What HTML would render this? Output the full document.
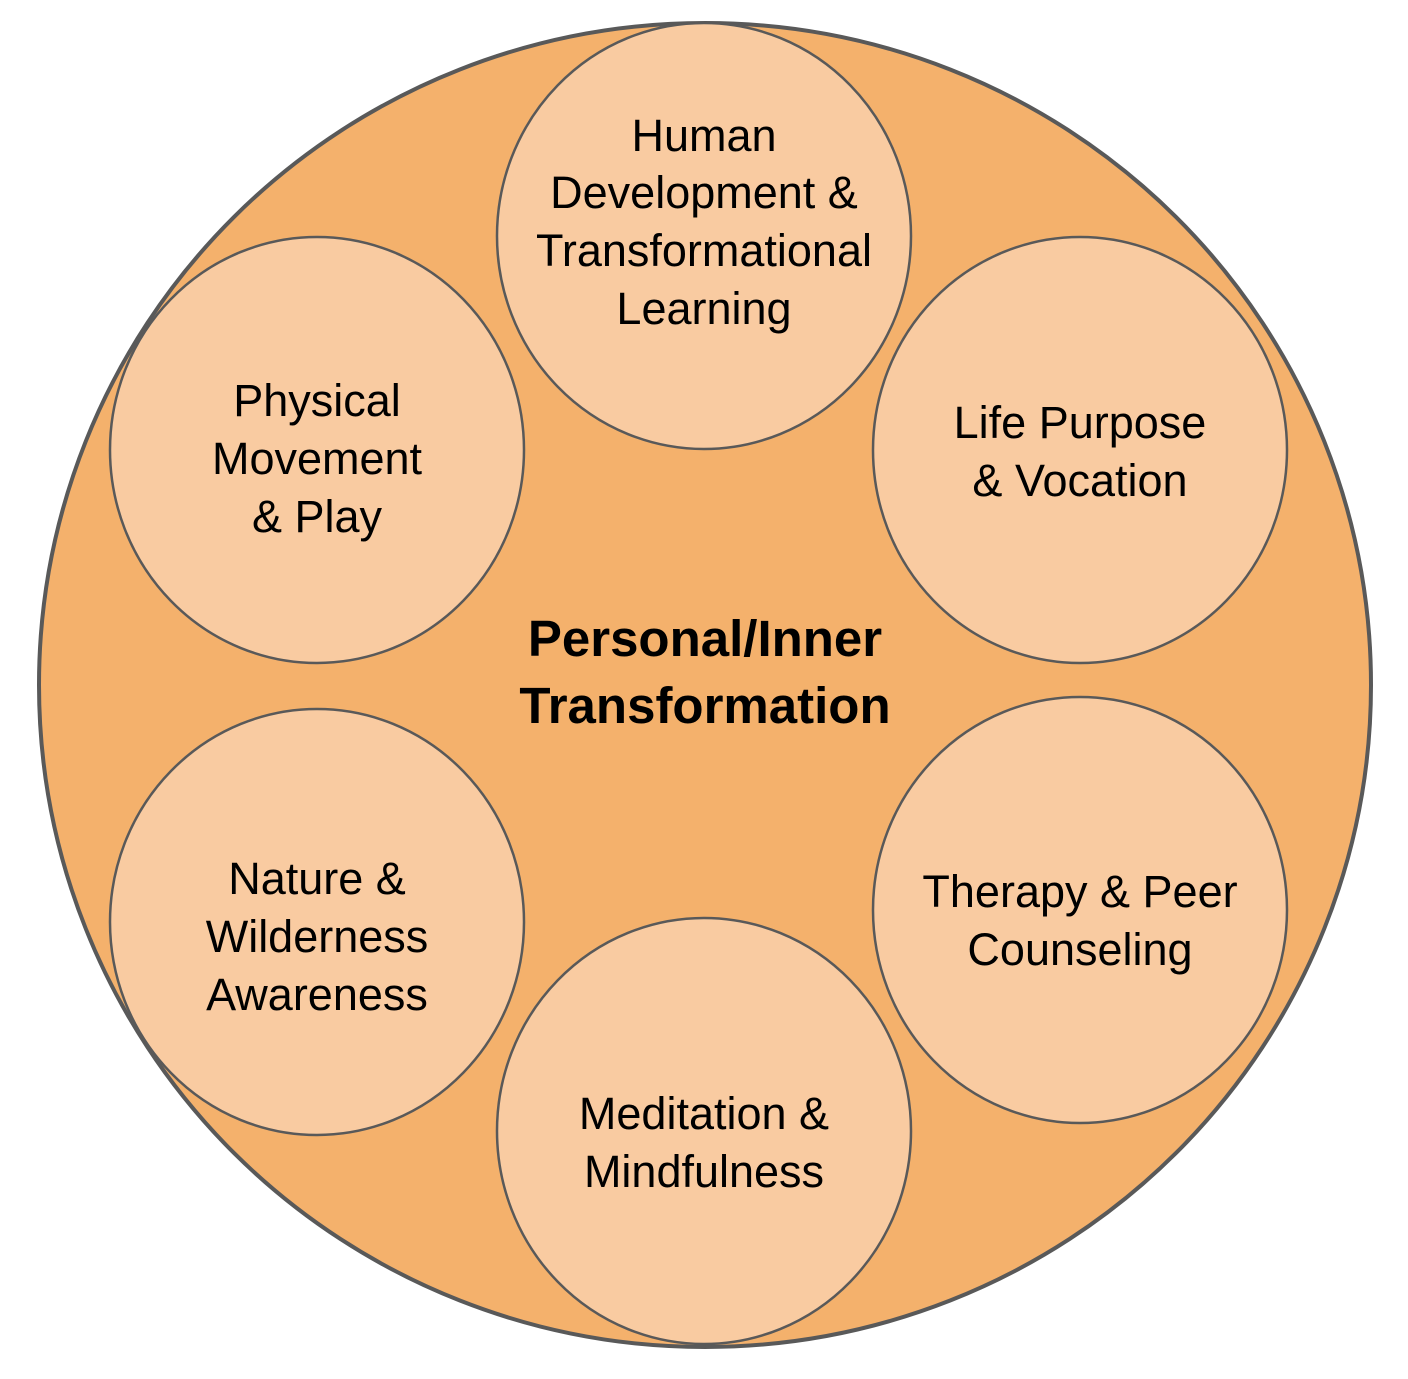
<!DOCTYPE html>
<html><head><meta charset="utf-8"><style>
html,body{margin:0;padding:0;background:#fff;}
svg{display:block;}
text{font-family:"Liberation Sans",Arial,sans-serif;fill:#000;text-anchor:middle;}
.s{font-size:45px;}
.b{font-size:51px;font-weight:bold;}
</style></head><body>
<svg width="1408" height="1379" viewBox="0 0 1408 1379" xmlns="http://www.w3.org/2000/svg">
<ellipse cx="705" cy="685" rx="666" ry="662" fill="#f4b16c" stroke="#595959" stroke-width="4"/>
<g fill="#f9cba1" stroke="#595959" stroke-width="2.5">
<ellipse cx="704" cy="236" rx="207" ry="213"/>
<ellipse cx="317" cy="450" rx="207" ry="213"/>
<ellipse cx="1080" cy="450" rx="207" ry="213"/>
<ellipse cx="317" cy="922" rx="207" ry="213"/>
<ellipse cx="1080" cy="910" rx="207" ry="213"/>
<ellipse cx="704" cy="1131" rx="207" ry="213"/>
</g>
<text class="s" x="704" y="151">Human</text>
<text class="s" x="704" y="208">Development &amp;</text>
<text class="s" x="704" y="266">Transformational</text>
<text class="s" x="704" y="324">Learning</text>

<text class="s" x="317" y="416">Physical</text>
<text class="s" x="317" y="474">Movement</text>
<text class="s" x="317" y="532">&amp; Play</text>

<text class="s" x="1080" y="438">Life Purpose</text>
<text class="s" x="1080" y="496">&amp; Vocation</text>

<text class="b" x="705" y="656">Personal/Inner</text>
<text class="b" x="705" y="723">Transformation</text>

<text class="s" x="317" y="894">Nature &amp;</text>
<text class="s" x="317" y="952">Wilderness</text>
<text class="s" x="317" y="1010">Awareness</text>

<text class="s" x="1080" y="907">Therapy &amp; Peer</text>
<text class="s" x="1080" y="965">Counseling</text>

<text class="s" x="704" y="1129">Meditation &amp;</text>
<text class="s" x="704" y="1187">Mindfulness</text>
</svg>
</body></html>
